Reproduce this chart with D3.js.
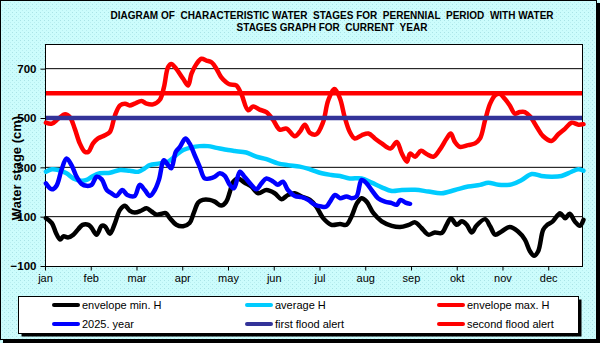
<!DOCTYPE html>
<html>
<head>
<meta charset="utf-8">
<script src="https://cdn.jsdelivr.net/npm/d3@7"></script>
<style>
  body { margin: 0; padding: 0; background: #fff; }
  svg { display: block; }
</style>
</head>
<body>
<div id="svgContainer"></div>
<script>
// month labels along the x axis (one tick per month start)
var monthLabels = ["jan", "feb", "mar", "apr", "may", "jun", "jul", "aug", "sep", "okt", "nov", "dec"];
var yTicks = [-100, 100, 300, 500, 700];
var gridValues = [100, 300, 700];

var titleLines = [
  "DIAGRAM OF  CHARACTERISTIC WATER  STAGES FOR  PERENNIAL  PERIOD  WITH WATER",
  "STAGES GRAPH FOR  CURRENT  YEAR"
];
var yTitle = "Water stage (cm)";

// flood alert levels (cm)
var firstFloodAlert = 500;
var secondFloodAlert = 600;

// series: [month position, water stage cm]
var envelopeMin = [[0.02,94],[0.15,74],[0.24,34],[0.33,7],[0.4,20],[0.51,16],[0.62,27],[0.73,50],[0.82,67],[0.95,67],[1.02,54],[1.13,27],[1.24,63],[1.31,61],[1.42,31],[1.53,74],[1.64,128],[1.75,144],[1.85,125],[1.96,117],[2.11,125],[2.22,134],[2.33,121],[2.44,108],[2.55,112],[2.64,114],[2.73,94],[2.87,67],[3.02,61],[3.16,74],[3.25,114],[3.35,157],[3.45,168],[3.6,168],[3.71,161],[3.85,145],[3.96,160],[4.04,200],[4.11,240],[4.22,255],[4.36,238],[4.51,222],[4.66,195],[4.84,208],[5.02,195],[5.17,171],[5.31,188],[5.46,195],[5.61,182],[5.79,168],[5.93,141],[6.08,94],[6.26,67],[6.45,70],[6.59,67],[6.7,101],[6.82,155],[6.92,175],[7.03,161],[7.18,114],[7.36,81],[7.58,63],[7.76,58],[7.95,67],[8.09,77],[8.23,54],[8.38,27],[8.52,36],[8.67,34],[8.78,67],[8.87,94],[9.0,67],[9.11,81],[9.22,67],[9.33,36],[9.43,63],[9.62,90],[9.73,61],[9.84,27],[9.98,40],[10.16,58],[10.34,40],[10.49,7],[10.6,-40],[10.69,-58],[10.78,-40],[10.89,47],[10.98,67],[11.1,81],[11.26,114],[11.37,94],[11.47,112],[11.58,81],[11.69,63],[11.77,87]];

var averageH = [[0.02,282],[0.15,292],[0.29,289],[0.47,276],[0.62,255],[0.8,246],[0.91,249],[1.05,265],[1.2,276],[1.42,278],[1.64,289],[1.85,286],[2.04,282],[2.18,296],[2.29,309],[2.51,316],[2.69,323],[2.87,350],[3.02,370],[3.2,381],[3.38,386],[3.56,386],[3.75,379],[4.0,370],[4.15,366],[4.4,360],[4.62,343],[4.84,333],[5.09,316],[5.31,309],[5.57,303],[5.79,292],[6.05,276],[6.26,269],[6.45,265],[6.66,255],[6.92,255],[7.14,238],[7.36,219],[7.58,204],[7.8,208],[8.09,209],[8.38,202],[8.67,195],[8.96,208],[9.25,222],[9.51,229],[9.69,238],[9.91,229],[10.2,231],[10.42,249],[10.64,273],[10.85,265],[11.07,262],[11.29,265],[11.51,282],[11.66,292],[11.77,286]];

var envelopeMax = [[0.02,481],[0.15,477],[0.29,497],[0.44,515],[0.55,502],[0.65,457],[0.76,397],[0.87,363],[0.95,363],[1.05,397],[1.16,417],[1.31,430],[1.42,444],[1.53,511],[1.64,551],[1.75,558],[1.85,551],[1.96,558],[2.11,569],[2.22,558],[2.36,555],[2.51,574],[2.6,625],[2.69,706],[2.76,719],[2.87,699],[3.02,659],[3.13,632],[3.2,679],[3.31,719],[3.42,740],[3.53,733],[3.64,726],[3.75,699],[3.85,666],[3.96,645],[4.04,636],[4.18,632],[4.29,598],[4.44,531],[4.55,547],[4.69,534],[4.84,524],[4.99,491],[5.13,453],[5.28,457],[5.46,426],[5.57,444],[5.68,473],[5.79,440],[5.93,434],[6.08,484],[6.19,571],[6.33,618],[6.45,578],[6.55,504],[6.66,444],[6.77,417],[6.92,430],[7.07,437],[7.21,417],[7.36,397],[7.55,376],[7.69,403],[7.8,356],[7.91,323],[7.98,356],[8.09,343],[8.22,367],[8.34,354],[8.49,343],[8.63,372],[8.78,417],[8.87,437],[8.96,403],[9.07,383],[9.25,390],[9.4,397],[9.51,417],[9.62,491],[9.73,558],[9.84,592],[9.94,598],[10.05,578],[10.16,551],[10.27,518],[10.38,524],[10.49,524],[10.6,507],[10.75,464],[10.89,426],[11.07,407],[11.22,434],[11.37,457],[11.51,481],[11.66,473],[11.77,475]];

var currentYear = [[0.02,235],[0.15,211],[0.25,225],[0.36,289],[0.47,336],[0.58,309],[0.69,262],[0.8,233],[0.91,225],[1.02,229],[1.13,262],[1.24,251],[1.35,208],[1.45,195],[1.56,184],[1.69,208],[1.8,188],[1.96,184],[2.07,229],[2.18,208],[2.29,184],[2.4,208],[2.49,249],[2.6,329],[2.69,309],[2.76,296],[2.86,363],[2.95,383],[3.07,417],[3.16,397],[3.27,350],[3.38,303],[3.49,255],[3.6,255],[3.71,262],[3.82,276],[3.93,265],[4.04,229],[4.13,215],[4.26,282],[4.36,262],[4.51,229],[4.62,211],[4.73,235],[4.84,255],[4.99,242],[5.09,229],[5.2,242],[5.31,208],[5.46,184],[5.61,179],[5.75,168],[5.9,148],[6.04,141],[6.15,141],[6.23,161],[6.34,188],[6.45,175],[6.59,182],[6.7,175],[6.81,182],[6.92,249],[7.03,235],[7.14,208],[7.28,175],[7.43,161],[7.58,155],[7.69,148],[7.77,168],[7.88,157],[7.98,152]];

var legendNames = ["envelope min. H", "average H", "envelope max. H", "2025. year", "first flood alert", "second flood alert"];
var legendColors = ["#000000", "#00ccff", "#ff0000", "#0000ff", "#333399", "#ff0000"];

var width = 600;
var height = 343;
var plot = { left: 45, right: 583, top: 44, bottom: 266 };
var font = "Arial, 'Liberation Sans', sans-serif";

var svg = d3.select("#svgContainer")
  .append("svg").attr("width", width).attr("height", height);

drawBackground(svg);
drawTitle(svg);

var x = d3.scaleLinear().domain([0, 11.76]).range([plot.left, plot.right]);
var y = d3.scaleLinear().domain([-100, 800]).range([plot.bottom, plot.top]);

drawPlotArea(svg, x, y);
drawSeries(svg, x, y);
drawLegend(svg);

function drawBackground(svg) {
  var defs = svg.append("defs");
  var pat = defs.append("pattern").attr("id", "dots")
    .attr("width", 4).attr("height", 4).attr("patternUnits", "userSpaceOnUse");
  pat.append("rect").attr("width", 4).attr("height", 4).attr("fill", "#ccfcfc");
  pat.append("rect").attr("x", 0).attr("y", 0).attr("width", 1).attr("height", 1).attr("fill", "#a9e3e6");
  pat.append("rect").attr("x", 2).attr("y", 2).attr("width", 1).attr("height", 1).attr("fill", "#b8eef0");

  svg.append("rect").attr("width", width).attr("height", height).attr("fill", "url(#dots)");
  // shadow of the frame
  svg.append("rect").attr("x", 597).attr("y", 3).attr("width", 3).attr("height", 340).attr("fill", "#000");
  svg.append("rect").attr("x", 3).attr("y", 340).attr("width", 597).attr("height", 3).attr("fill", "#000");
  svg.append("rect").attr("x", 0.5).attr("y", 0.5).attr("width", 596).attr("height", 339)
    .attr("fill", "none").attr("stroke", "#000").attr("stroke-width", 1);
}

function drawTitle(svg) {
  var t = svg.append("text")
    .attr("text-anchor", "middle")
    .style("font-family", font).style("font-size", "10px").style("font-weight", "bold")
    .attr("fill", "#000").attr("xml:space", "preserve");
  t.append("tspan").attr("x", 332).attr("y", 19).text(titleLines[0]);
  t.append("tspan").attr("x", 332).attr("y", 31).text(titleLines[1]);
}

function drawPlotArea(svg, x, y) {
  svg.append("rect")
    .attr("x", plot.left).attr("y", plot.top)
    .attr("width", plot.right - plot.left).attr("height", plot.bottom - plot.top)
    .attr("fill", "#fff");

  svg.selectAll(".grid").data(gridValues).enter().append("line")
    .attr("x1", plot.left).attr("x2", plot.right)
    .attr("y1", function(d) { return y(d); }).attr("y2", function(d) { return y(d); })
    .attr("stroke", "#000").attr("stroke-width", 1);

  svg.append("rect")
    .attr("x", plot.left + 0.5).attr("y", plot.top + 0.5)
    .attr("width", plot.right - plot.left - 1).attr("height", plot.bottom - plot.top)
    .attr("fill", "none").attr("stroke", "#000").attr("stroke-width", 1);

  // y axis
  var yAxis = svg.append("g")
    .attr("transform", "translate(" + (plot.left + 0.5) + ",0)")
    .call(d3.axisLeft(y).tickValues(yTicks).tickSize(5).tickPadding(4));
  yAxis.select(".domain").remove();
  yAxis.selectAll("line").attr("stroke", "#000");
  yAxis.selectAll("text")
    .style("font-family", font).style("font-size", "11.5px").style("font-weight", "bold").attr("fill", "#000");

  // x axis
  var xAxis = svg.append("g")
    .attr("transform", "translate(0," + (plot.bottom + 0.5) + ")")
    .call(d3.axisBottom(x).tickValues(d3.range(12))
      .tickFormat(function(d) { return monthLabels[d]; })
      .tickSize(4).tickPadding(4));
  xAxis.select(".domain").remove();
  xAxis.selectAll("line").attr("stroke", "#000");
  xAxis.selectAll("text")
    .style("font-family", font).style("font-size", "11px").attr("fill", "#000");

  svg.append("text")
    .attr("transform", "translate(21," + 168 + ") rotate(-90)")
    .attr("text-anchor", "middle")
    .style("font-family", font).style("font-size", "13px").style("font-weight", "bold")
    .attr("fill", "#000")
    .text(yTitle);
}

function drawSeries(svg, x, y) {
  var line = d3.line()
    .x(function(d) { return x(d[0]); })
    .y(function(d) { return y(d[1]); })
    .curve(d3.curveCatmullRom.alpha(0.5));

  var series = [envelopeMin, averageH, envelopeMax, currentYear];
  series.forEach(function(s, i) {
    svg.append("path")
      .attr("d", line(s))
      .attr("fill", "none")
      .attr("stroke", legendColors[i])
      .attr("stroke-width", 4.5)
      .attr("stroke-linejoin", "round")
      .attr("stroke-linecap", "round");
  });

  [firstFloodAlert, secondFloodAlert].forEach(function(v, i) {
    svg.append("line")
      .attr("x1", plot.left + 1).attr("x2", plot.right - 1)
      .attr("y1", y(v)).attr("y2", y(v))
      .attr("stroke", legendColors[4 + i])
      .attr("stroke-width", 4.5);
  });
}

function drawLegend(svg) {
  var box = { x: 18.5, y: 296.5, w: 560, h: 37 };
  svg.append("rect").attr("x", box.x + 3).attr("y", box.y + 3)
    .attr("width", box.w).attr("height", box.h).attr("fill", "#000");
  svg.append("rect").attr("x", box.x).attr("y", box.y)
    .attr("width", box.w).attr("height", box.h)
    .attr("fill", "#fff").attr("stroke", "#000").attr("stroke-width", 1);

  var colX = [52, 245, 437];
  var rowY = [305, 324];
  legendNames.forEach(function(name, i) {
    var cx = colX[i % 3];
    var cy = rowY[Math.floor(i / 3)];
    svg.append("line")
      .attr("x1", cx + 2).attr("x2", cx + 26)
      .attr("y1", cy).attr("y2", cy)
      .attr("stroke", legendColors[i]).attr("stroke-width", 4)
      .attr("stroke-linecap", "round");
    svg.append("text")
      .attr("x", cx + 30).attr("y", cy + 4)
      .style("font-family", font).style("font-size", "11px")
      .attr("fill", "#000")
      .text(name);
  });
}
</script>
</body>
</html>
